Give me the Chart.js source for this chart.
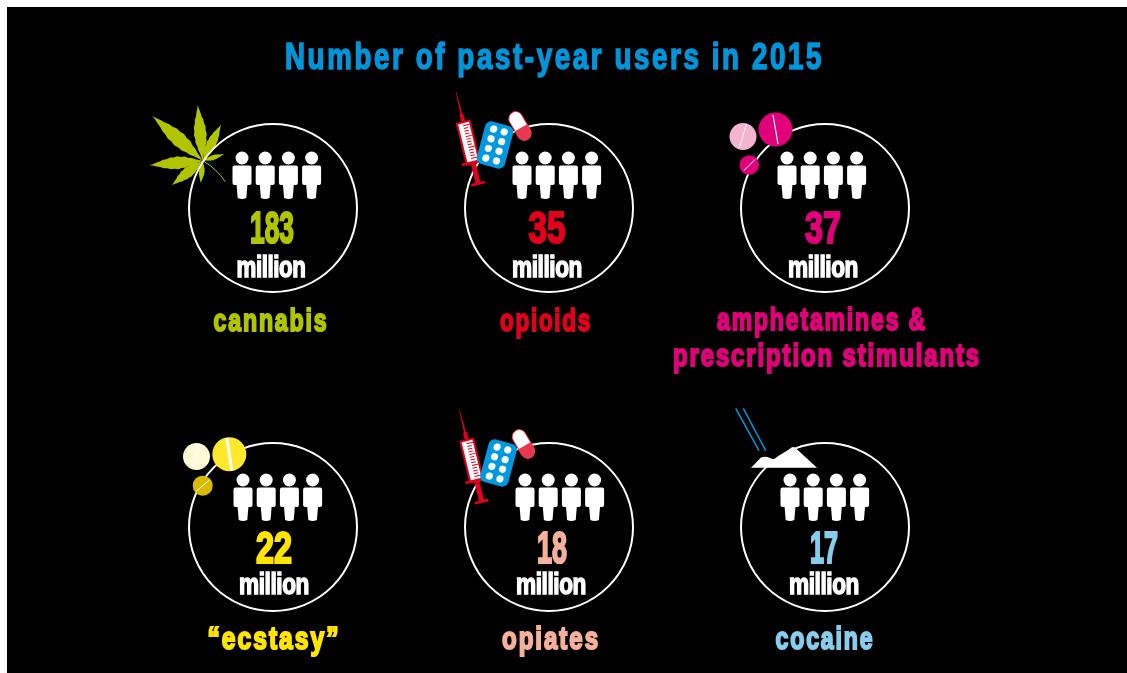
<!DOCTYPE html>
<html>
<head>
<meta charset="utf-8">
<title>Number of past-year users in 2015</title>
<script src="https://cdn.jsdelivr.net/npm/chart.js@4"></script>
<style>
  html, body { margin: 0; background: #fff; overflow: hidden; }
  canvas { display: block; margin: 7px 0 0 7px; }
</style>
</head>
<body>
<canvas id="chart" width="1120" height="666"></canvas>
<script>
const chartTitle = 'Number of past-year users in 2015';
const drugs = ['cannabis', 'opioids', 'amphetamines &|prescription stimulants', '“ecstasy”', 'opiates', 'cocaine'];
const usersMillions = [183, 35, 37, 22, 18, 17];
const unitLabel = 'million';
const gridColumn = [0, 1, 2, 0, 1, 2];
const gridRow = [0, 0, 0, 1, 1, 1];
const drugColors = ['#b0c400', '#e2001a', '#e2007a', '#ffe500', '#f6b19b', '#87cdee'];

// text and icon placement, relative to each ring centre
const layout = [
  { head: [-31, -50], num: [-1, 35.5, 44], unit: [-2, 69.5, 69], label: [[-2, 123.5, 115]] },
  { head: [-27, -50], num: [-2, 35.5, 37], unit: [-2, 69.5, 70], label: [[-3, 123.5, 92]] },
  { head: [-38, -50], num: [-2, 35.5, 36], unit: [-2, 69.5, 70], label: [[-3, 122, 210], [2, 158, 308]] },
  { head: [-30, -47], num: [1, 36.5, 36], unit: [1, 67.5, 70], label: [[1, 122.5, 133]] },
  { head: [-24, -47], num: [3, 36.5, 30], unit: [2, 67.5, 70], label: [[2, 122.5, 98]] },
  { head: [-35, -47], num: [-1, 36.5, 28], unit: [-1, 67.5, 70], label: [[0, 122.5, 99]] }
];

const FONT = '"Liberation Sans Narrow", "Liberation Sans", sans-serif';

function fitText(ctx, str, cx, base, width, size, color, spacing, heavy) {
  ctx.save();
  ctx.font = 'bold ' + size + 'px ' + FONT;
  ctx.letterSpacing = spacing + 'px';
  ctx.textAlign = 'left';
  ctx.textBaseline = 'alphabetic';
  const w = ctx.measureText(str).width;
  const sx = width / w;
  ctx.translate(cx - width / 2, base);
  ctx.scale(sx, 1);
  ctx.fillStyle = color;
  ctx.strokeStyle = color;
  ctx.lineWidth = heavy;
  ctx.lineJoin = 'miter';
  ctx.miterLimit = 3;
  if (heavy > 0) ctx.strokeText(str, 0, 0);
  ctx.fillText(str, 0, 0);
  ctx.restore();
}

function person(ctx, x, y) {
  ctx.fillStyle = '#fff';
  ctx.beginPath();
  ctx.arc(x, y, 6.5, 0, Math.PI * 2);
  ctx.fill();
  ctx.beginPath();
  ctx.roundRect(x - 9.5, y + 7.5, 19, 19.5, 2);
  ctx.fill();
  ctx.beginPath();
  ctx.moveTo(x - 5.5, y + 26);
  ctx.lineTo(x + 5.5, y + 26);
  ctx.lineTo(x + 4.3, y + 40);
  ctx.quadraticCurveTo(x, y + 42, x - 4.3, y + 40);
  ctx.closePath();
  ctx.fill();
}

function leaflet(ctx, ox, oy, tx, ty, halfWidth) {
  const dx = tx - ox, dy = ty - oy;
  const len = Math.hypot(dx, dy);
  const ux = dx / len, uy = dy / len;
  const steps = 15;
  const side = (sign, from, to, step) => {
    for (let i = from; i !== to; i += step) {
      const t = i / steps;
      const h = halfWidth * Math.pow(Math.sin(Math.PI * Math.pow(t, 0.95)), 1.3);
      const notch = i % 2 ? 1 : 0.88;
      ctx.lineTo(ox + dx * t - uy * h * notch * sign, oy + dy * t + ux * h * notch * sign);
    }
  };
  ctx.beginPath();
  ctx.moveTo(ox, oy);
  side(1, 1, steps, 1);
  ctx.lineTo(tx, ty);
  side(-1, steps - 1, 0, -1);
  ctx.closePath();
  ctx.fill();
}

function drawLeaf(ctx, x, y) {
  ctx.save();
  ctx.translate(x, y);
  ctx.fillStyle = drugColors[0];
  leaflet(ctx, 0, 0, -5, -56, 6.5);
  leaflet(ctx, 0, 0, -50.5, -45, 7.5);
  leaflet(ctx, 0, 0, -53.5, 4.5, 6.5);
  leaflet(ctx, 0, 0, -31, 24.5, 5.5);
  leaflet(ctx, 0, 0, -2, 22.5, 3);
  leaflet(ctx, 0, 0, 18.5, -36.5, 5);
  leaflet(ctx, 0, 0, 21.5, -6.5, 2.6);
  ctx.strokeStyle = drugColors[0];
  ctx.lineWidth = 1;
  ctx.beginPath();
  ctx.moveTo(0, 0);
  ctx.quadraticCurveTo(14, 8, 22.5, 21);
  ctx.stroke();
  ctx.restore();
}

function drawMedicine(ctx, x, y) {
  const red = '#e2001a';
  // syringe
  ctx.save();
  ctx.translate(x - 93, y - 116);
  ctx.rotate(-13.6 * Math.PI / 180);
  ctx.fillStyle = red;
  ctx.beginPath();
  ctx.moveTo(-0.3, 0);
  ctx.lineTo(0.3, 0);
  ctx.lineTo(1, 24);
  ctx.lineTo(-1, 24);
  ctx.closePath();
  ctx.fill();
  ctx.fillRect(-2, 23, 4, 7);
  ctx.fillRect(-7.5, 30, 15, 44);
  ctx.fillRect(-11.5, 71, 23, 2.5);
  ctx.fillRect(-2.5, 73, 5, 21);
  ctx.fillRect(-7, 93, 14, 2.5);
  ctx.fillStyle = '#fff';
  ctx.fillRect(-5.5, 32, 11, 39);
  ctx.fillStyle = red;
  for (let i = 0; i < 13; i++) ctx.fillRect(-1, 34 + i * 2.8, i % 4 === 0 ? 6.5 : 4.5, 1);
  ctx.restore();
  // blister pack
  ctx.save();
  ctx.translate(x - 54, y - 63);
  ctx.rotate(15 * Math.PI / 180);
  ctx.fillStyle = '#0098e0';
  ctx.beginPath();
  ctx.roundRect(-14.5, -22, 29, 44, 6);
  ctx.fill();
  ctx.fillStyle = '#fff';
  for (let r = 0; r < 4; r++) {
    for (let c = 0; c < 2; c++) {
      ctx.beginPath();
      ctx.arc(-5.5 + c * 11, -15 + r * 10, 3.6, 0, Math.PI * 2);
      ctx.fill();
    }
  }
  ctx.restore();
  // capsule
  ctx.save();
  ctx.translate(x - 29, y - 82);
  ctx.rotate(-30 * Math.PI / 180);
  ctx.fillStyle = '#e8384f';
  ctx.beginPath();
  ctx.roundRect(-7.5, -16, 15, 32, 7.5);
  ctx.fill();
  ctx.fillStyle = '#fff';
  ctx.beginPath();
  ctx.roundRect(-6.5, -15, 13, 17, [6.5, 6.5, 0, 0]);
  ctx.fill();
  ctx.restore();
}

function pill(ctx, x, y, r, fill, x1, y1, x2, y2, lw) {
  ctx.fillStyle = fill;
  ctx.beginPath();
  ctx.arc(x, y, r, 0, Math.PI * 2);
  ctx.fill();
  ctx.strokeStyle = '#fff';
  ctx.lineWidth = lw;
  ctx.beginPath();
  ctx.moveTo(x + x1, y + y1);
  ctx.lineTo(x + x2, y + y2);
  ctx.stroke();
}

function drawPinkPills(ctx, x, y) {
  pill(ctx, x - 82, y - 71.5, 13.5, '#f4b3d0', 3.5, -12.5, -3.5, 11, 1);
  pill(ctx, x - 49.5, y - 78.5, 17, '#e2007a', -2.5, -14.5, 2.5, 14.5, 1.2);
  pill(ctx, x - 75.7, y - 43, 9.8, '#e2007a', -5.5, 5.5, 6, -5.5, 1);
}

function drawYellowPills(ctx, x, y) {
  pill(ctx, x - 76.5, y - 70.5, 13.5, '#fff9d6', 3.5, -12.5, -3.5, 12, 1.5);
  pill(ctx, x - 43.7, y - 72.7, 17, '#ffe92a', -2.5, -16, 2.5, 16, 3);
  pill(ctx, x - 70.3, y - 41.3, 10, '#d9bc00', -6.5, 5.5, 6.5, -5.5, 1);
}

function drawPowder(ctx, x, y) {
  ctx.save();
  ctx.translate(x, y);
  ctx.strokeStyle = '#0095db';
  ctx.lineWidth = 1.5;
  ctx.beginPath();
  ctx.moveTo(-89.3, -118.7);
  ctx.lineTo(-66, -76.3);
  ctx.moveTo(-81.7, -118.7);
  ctx.lineTo(-59.3, -76.3);
  ctx.stroke();
  ctx.fillStyle = '#fff';
  ctx.beginPath();
  ctx.moveTo(-74, -59.3);
  ctx.lineTo(-64, -69.5);
  ctx.quadraticCurveTo(-58.5, -71.5, -54, -68.5);
  ctx.lineTo(-50, -67.5);
  ctx.lineTo(-33.5, -79.5);
  ctx.quadraticCurveTo(-31.7, -80.5, -30, -79.5);
  ctx.lineTo(-8, -59.3);
  ctx.closePath();
  ctx.fill();
  ctx.restore();
}

function ringCentre(chart, i) {
  return { x: chart.scales.x.getPixelForValue(gridColumn[i]), y: chart.scales.y.getPixelForValue(gridRow[i]) };
}

const backdrop = {
  id: 'backdrop',
  beforeDatasetsDraw(chart) {
    const ctx = chart.ctx;
    const c = ringCentre(chart, 0);
    ctx.save();
    ctx.fillStyle = '#000';
    ctx.fillRect(0, 0, chart.width, chart.height);
    drawLeaf(ctx, c.x - 70.3, c.y - 47.3);
    ctx.restore();
  }
};

const infographic = {
  id: 'infographic',
  afterDatasetsDraw(chart) {
    const ctx = chart.ctx;
    ctx.save();
    fitText(ctx, chartTitle, 547.5, 61.5, 539, 37, '#0095db', 3.5, 1.6);
    drugs.forEach((name, i) => {
      const c = ringCentre(chart, i);
      const l = layout[i];
      for (let p = 0; p < 4; p++) person(ctx, c.x + l.head[0] + p * 23.2, c.y + l.head[1]);
      fitText(ctx, String(usersMillions[i]), c.x + l.num[0], c.y + l.num[1], l.num[2], 44, drugColors[i], 0, 2.2);
      fitText(ctx, unitLabel, c.x + l.unit[0], c.y + l.unit[1], l.unit[2], 29, '#fff', -0.5, 1.6);
      name.split('|').forEach((line, k) => {
        const t = l.label[k];
        fitText(ctx, line, c.x + t[0], c.y + t[1], t[2], 31, drugColors[i], 2.5, 2);
      });
    });
    const at = i => ringCentre(chart, i);
    drawMedicine(ctx, at(1).x, at(1).y);
    drawPinkPills(ctx, at(2).x, at(2).y);
    drawYellowPills(ctx, at(3).x, at(3).y);
    drawMedicine(ctx, at(4).x + 3.5, at(4).y - 1);
    drawPowder(ctx, at(5).x, at(5).y);
    ctx.restore();
  }
};

new Chart(document.getElementById('chart'), {
  type: 'scatter',
  data: {
    labels: drugs,
    datasets: [{
      label: 'Past-year users (millions)',
      data: usersMillions.map((v, i) => ({ x: gridColumn[i], y: gridRow[i], users: v })),
      pointRadius: 84,
      pointHoverRadius: 84,
      pointBackgroundColor: 'rgba(0,0,0,0)',
      pointBorderColor: '#fff',
      pointBorderWidth: 2
    }]
  },
  options: {
    responsive: false,
    animation: false,
    events: [],
    layout: { padding: 0, autoPadding: false },
    scales: {
      x: { type: 'linear', display: false, min: -0.9638, max: 3.0942 },
      y: { type: 'linear', display: false, reverse: true, min: -0.6301, max: 1.4577 }
    },
    plugins: {
      legend: { display: false },
      title: { display: false },
      tooltip: { enabled: false }
    }
  },
  plugins: [backdrop, infographic]
});
</script>
</body>
</html>
